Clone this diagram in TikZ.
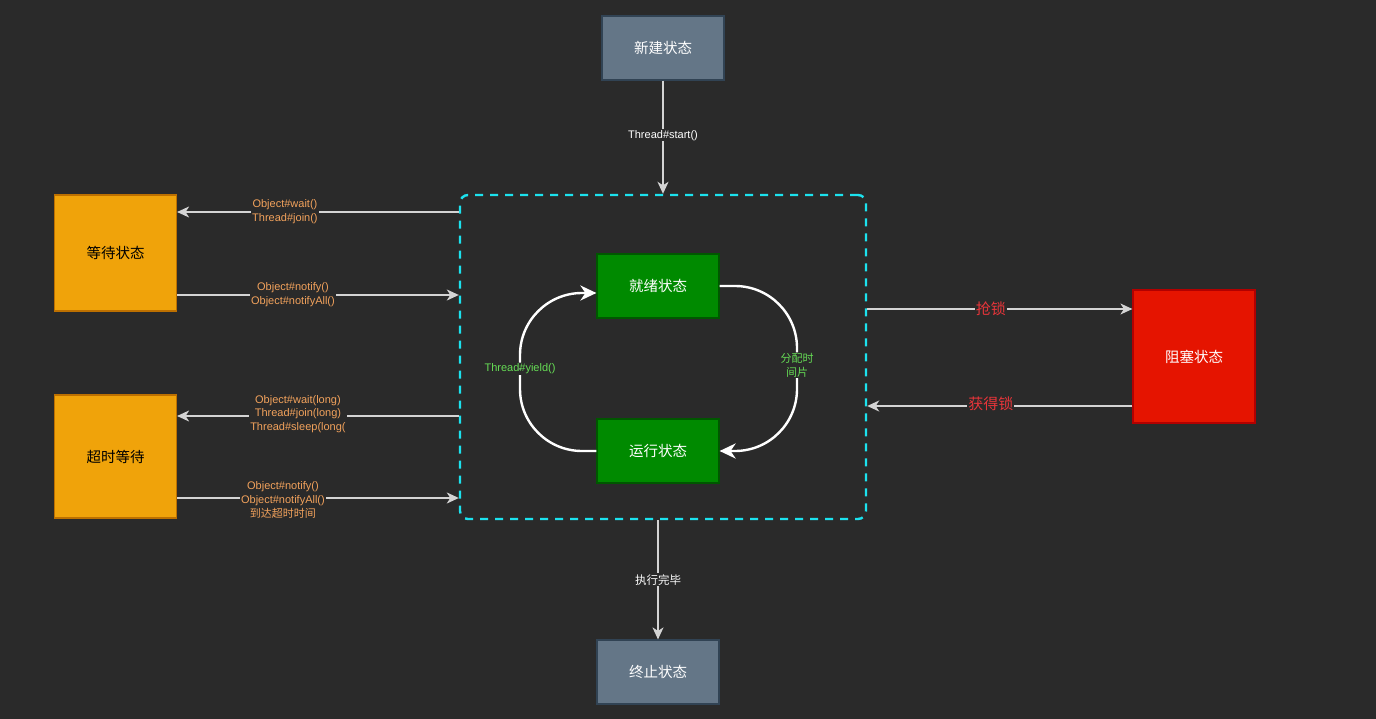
\documentclass[tikz,border=0pt]{standalone}
\usepackage{fontspec}
\setmainfont{Liberation Sans}
\newfontfamily\cjk{Noto Sans CJK SC}
\usetikzlibrary{arrows.meta}
\definecolor{bgdark}{HTML}{2A2A2A}
\definecolor{slatefill}{HTML}{647687}
\definecolor{slateline}{HTML}{314354}
\definecolor{amberfill}{HTML}{F0A30A}
\definecolor{amberline}{HTML}{BD7000}
\definecolor{greenfill}{HTML}{008A00}
\definecolor{greenline}{HTML}{005700}
\definecolor{redfill}{HTML}{E51400}
\definecolor{redline}{HTML}{B20000}
\definecolor{dashcyan}{HTML}{1CE2EE}
\definecolor{linegray}{HTML}{D4D4D4}
\definecolor{labelorange}{HTML}{F2A25C}
\definecolor{labelgreen}{HTML}{66DD55}
\definecolor{labelred}{HTML}{E8353A}
\tikzset{
  state/.style={draw,line width=1.2pt,minimum width=122pt,minimum height=64pt,inner sep=0pt,font=\cjk\fontsize{14.5}{17}\selectfont},
  flow/.style={draw=linegray,line width=1.4pt,-{Stealth[length=12pt,width=11pt,inset=3.5pt]}},
  loop/.style={draw=white,line width=2.4pt,rounded corners=62pt,-{Stealth[length=16pt,width=15pt,inset=5pt]}},
  tag/.style={fill=bgdark,inner sep=1pt,align=center,font=\fontsize{11}{13.8}\selectfont}
}
\begin{document}
\begin{tikzpicture}[x=1pt,y=-1pt]
	\fill[bgdark] (0,0) rectangle (1376,719);
	\useasboundingbox (0,0) rectangle (1376,719);
	% running area
	\node[draw=dashcyan,line width=2.4pt,dash pattern=on 8pt off 7pt,rounded corners=8pt,minimum width=406pt,minimum height=324pt] (area) at (663,357) {};
	% states
	\node[state,fill=slatefill,draw=slateline,text=white] (new) at (663,48) {新建状态};
	\node[state,fill=greenfill,draw=greenline,text=white] (ready) at (658,286) {就绪状态};
	\node[state,fill=greenfill,draw=greenline,text=white] (running) at (658,451) {运行状态};
	\node[state,fill=slatefill,draw=slateline,text=white] (dead) at (658,672) {终止状态};
	\node[state,fill=amberfill,draw=amberline,text=black,minimum height=116pt] (waiting) at (115.5,253) {等待状态};
	\node[state,fill=amberfill,draw=amberline,text=black,minimum height=123pt] (timed) at (115.5,456.5) {超时等待};
	\node[state,fill=redfill,draw=redline,text=white,minimum height=133pt] (blocked) at (1194,356.5) {阻塞状态};
	% top and bottom
	\draw[flow] (new.south) -- node[tag,text=white,yshift=2pt] {Thread\#start()} (area.north -| new.south);
	\draw[flow] (area.south -| dead.north) -- node[tag,text=white,font=\cjk\fontsize{11.5}{13}\selectfont] {执行完毕} (dead.north);
	% waiting
	\draw[flow] (area.west |- 0,212) -- node[tag,text=labelorange,xshift=-33pt] {Object\#wait()\\Thread\#join()} (waiting.east |- 0,212);
	\draw[flow] (waiting.east |- 0,295) -- node[tag,text=labelorange,xshift=-25pt] {Object\#notify()\\Object\#notifyAll()} (area.west |- 0,295);
	% timed waiting
	\draw[flow] (area.west |- 0,416) -- node[tag,text=labelorange,xshift=-20pt,yshift=2pt] {Object\#wait(long)\\Thread\#join(long)\\Thread\#sleep(long(} (timed.east |- 0,416);
	\draw[flow] (timed.east |- 0,498) -- node[tag,text=labelorange,xshift=-35pt,yshift=-2pt] {Object\#notify()\\Object\#notifyAll()\\{\cjk 到达超时时间}} (area.west |- 0,498);
	% blocked
	\draw[flow] (area.east |- 0,309) -- node[tag,text=labelred,xshift=-9pt,font=\cjk\fontsize{15}{17}\selectfont] {抢锁} (blocked.west |- 0,309);
	\draw[flow] (blocked.west |- 0,406) -- node[tag,text=labelred,xshift=-9pt,yshift=2pt,font=\cjk\fontsize{15}{17}\selectfont] {获得锁} (area.east |- 0,406);
	% cycle
	\draw[loop] (running.west) -- (520,451) -- node[tag,text=labelgreen,pos=0.52] {Thread\#yield()} (520,293) -- (ready.west |- 0,293);
	\draw[loop] (ready.east) -- (797,286) -- node[tag,text=labelgreen,font=\cjk\fontsize{11}{13.5}\selectfont,pos=0.48] {分配时\\间片} (797,451) -- (running.east);
\end{tikzpicture}
\end{document}
